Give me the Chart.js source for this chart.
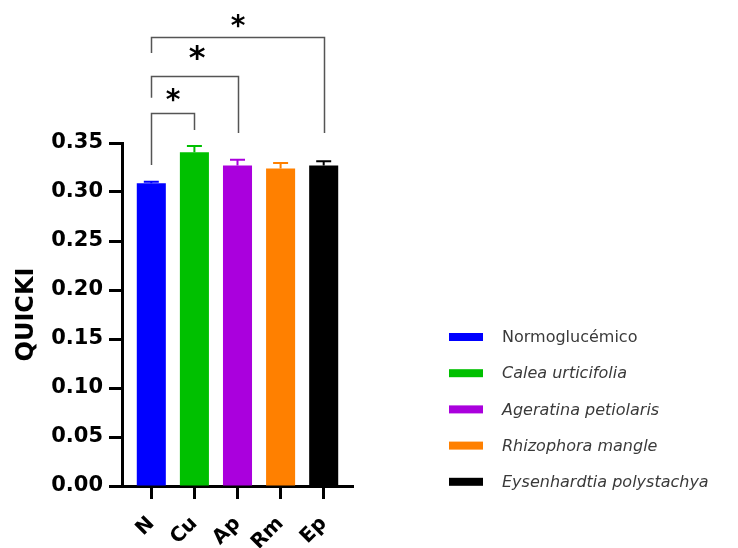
<!DOCTYPE html>
<html lang="es">
<head>
    <meta charset="utf-8">
    <title>QUICKI</title>
    <script src="https://cdn.jsdelivr.net/npm/chart.js"></script>
    <style>
        html, body { margin: 0; padding: 0; background: #fff; }
        #wrap { width: 738px; height: 548px; position: relative; }
    </style>
</head>
<body>
    <div id="wrap">
        <canvas id="quickiChart"></canvas>
    </div>

    <script>
        // datos
        const categories = ["N", "Cu", "Ap", "Rm", "Ep"];
        const groupNames = ["Normoglucémico", "Calea urticifolia", "Ageratina petiolaris", "Rhizophora mangle", "Eysenhardtia polystachya"];
        const italicName = [false, true, true, true, true];
        const quickiMean = [0.309, 0.3405, 0.327, 0.324, 0.327];
        const quickiSem = [0.0015, 0.0065, 0.006, 0.0055, 0.0045];
        const barColors = ["#0000ff", "#00c000", "#aa00dd", "#ff8000", "#000000"];
        const yTicks = [0.00, 0.05, 0.10, 0.15, 0.20, 0.25, 0.30, 0.35];

        // comparaciones significativas: grupos, altura de la barra, fin de cada pata y del asterisco
        const sigPairs = [[0, 1], [0, 2], [0, 4]];
        const sigTop = [0.3803, 0.4187, 0.4585];
        const sigLeftLeg = [0.3276, 0.3962, 0.4418];
        const sigRightLeg = [0.3633, 0.3602, 0.3602];
        const sigStar = [0.398, 0.442, 0.474];
        const sigLabel = ["*", "*", "*"];

        const axisFont = "'DejaVu Sans', sans-serif";

        const errorBars = {
            id: 'errorBars',
            afterDatasetsDraw(chart) {
                const ctx = chart.ctx;
                const y = chart.scales.y;
                const meta = chart.getDatasetMeta(0);
                ctx.save();
                ctx.lineWidth = 2;
                meta.data.forEach((bar, i) => {
                    const top = y.getPixelForValue(quickiMean[i] + quickiSem[i]);
                    ctx.strokeStyle = barColors[i];
                    ctx.beginPath();
                    ctx.moveTo(bar.x, bar.y);
                    ctx.lineTo(bar.x, top);
                    ctx.moveTo(bar.x - 7.5, top);
                    ctx.lineTo(bar.x + 7.5, top);
                    ctx.stroke();
                });
                ctx.restore();
            }
        };

        const brackets = {
            id: 'brackets',
            afterDraw(chart) {
                const ctx = chart.ctx;
                const x = chart.scales.x;
                const y = chart.scales.y;
                ctx.save();
                ctx.strokeStyle = "#555";
                ctx.lineWidth = 1.5;
                sigPairs.forEach((p, k) => {
                    const xa = Math.round(x.getPixelForValue(p[0])) + 0.5;
                    const xb = Math.round(x.getPixelForValue(p[1])) + 0.5;
                    const yt = Math.round(y.getPixelForValue(sigTop[k])) + 0.5;
                    ctx.beginPath();
                    ctx.moveTo(xa, y.getPixelForValue(sigLeftLeg[k]));
                    ctx.lineTo(xa, yt);
                    ctx.lineTo(xb, yt);
                    ctx.lineTo(xb, y.getPixelForValue(sigRightLeg[k]));
                    ctx.stroke();

                    const size = k === 1 ? 32 : 28;
                    ctx.fillStyle = "#000";
                    ctx.font = "bold " + size + "px " + axisFont;
                    ctx.textAlign = "center";
                    ctx.textBaseline = "alphabetic";
                    ctx.fillText(sigLabel[k], (xa + xb) / 2 + (k === 1 ? 2 : 0), y.getPixelForValue(sigStar[k]) + size * 0.48);
                });
                ctx.restore();
            }
        };

        const sideLegend = {
            id: 'sideLegend',
            afterDraw(chart) {
                const ctx = chart.ctx;
                ctx.save();
                groupNames.forEach((name, i) => {
                    const rowY = 337 + i * 36.2;
                    ctx.fillStyle = barColors[i];
                    ctx.fillRect(449, rowY - 4, 34, 8);
                    ctx.fillStyle = "#3a3a3a";
                    ctx.font = (italicName[i] ? "italic " : "") + "16px " + axisFont;
                    ctx.textAlign = "left";
                    ctx.textBaseline = "middle";
                    ctx.fillText(name, 502, rowY + 1);
                });
                ctx.restore();
            }
        };

        const ctx = document.getElementById("quickiChart").getContext("2d");
        const quickiChart = new Chart(ctx, {
            type: 'bar',
            data: {
                datasets: [{
                    label: "QUICKI",
                    data: quickiMean.map((v, i) => ({ x: i, y: v })),
                    backgroundColor: barColors,
                    borderWidth: 0,
                    barPercentage: 0.674,
                    categoryPercentage: 1
                }]
            },
            options: {
                responsive: true,
                maintainAspectRatio: false,
                animation: false,
                layout: {
                    padding: { top: 143, right: 385, bottom: 0, left: 0 }
                },
                scales: {
                    x: {
                        type: 'linear',
                        offset: false,
                        min: -0.68,
                        max: 4.68,
                        afterBuildTicks(scale) {
                            scale.ticks = categories.map((c, i) => ({ value: i }));
                        },
                        afterFit(scale) {
                            scale.height = 62;
                        },
                        border: { display: true, color: "#000", width: 3 },
                        grid: {
                            offset: false,
                            drawOnChartArea: false,
                            drawTicks: true,
                            tickLength: 13,
                            tickWidth: 3,
                            tickColor: "#000"
                        },
                        ticks: {
                            autoSkip: false,
                            minRotation: 45,
                            maxRotation: 45,
                            padding: 13,
                            color: "#000",
                            font: { family: axisFont, size: 20, weight: 'bold' },
                            callback: (v) => categories[v]
                        }
                    },
                    y: {
                        min: 0,
                        max: 0.35,
                        afterBuildTicks(scale) {
                            scale.ticks = yTicks.map(v => ({ value: v }));
                        },
                        afterFit(scale) {
                            scale.width = 122;
                        },
                        border: { display: true, color: "#000", width: 3 },
                        grid: {
                            drawOnChartArea: false,
                            tickLength: 13,
                            tickWidth: 3,
                            tickColor: "#000"
                        },
                        ticks: {
                            padding: 6,
                            color: "#000",
                            font: { family: axisFont, size: 21, weight: 'bold' },
                            callback: (v) => Number(v).toFixed(2)
                        },
                        title: {
                            display: true,
                            text: "QUICKI",
                            color: "#000",
                            padding: { top: 12, bottom: 0 },
                            font: { family: axisFont, size: 24, weight: 'bold' }
                        }
                    }
                },
                plugins: {
                    legend: { display: false },
                    tooltip: { enabled: false }
                }
            },
            plugins: [errorBars, brackets, sideLegend]
        });
    </script>
</body>
</html>
